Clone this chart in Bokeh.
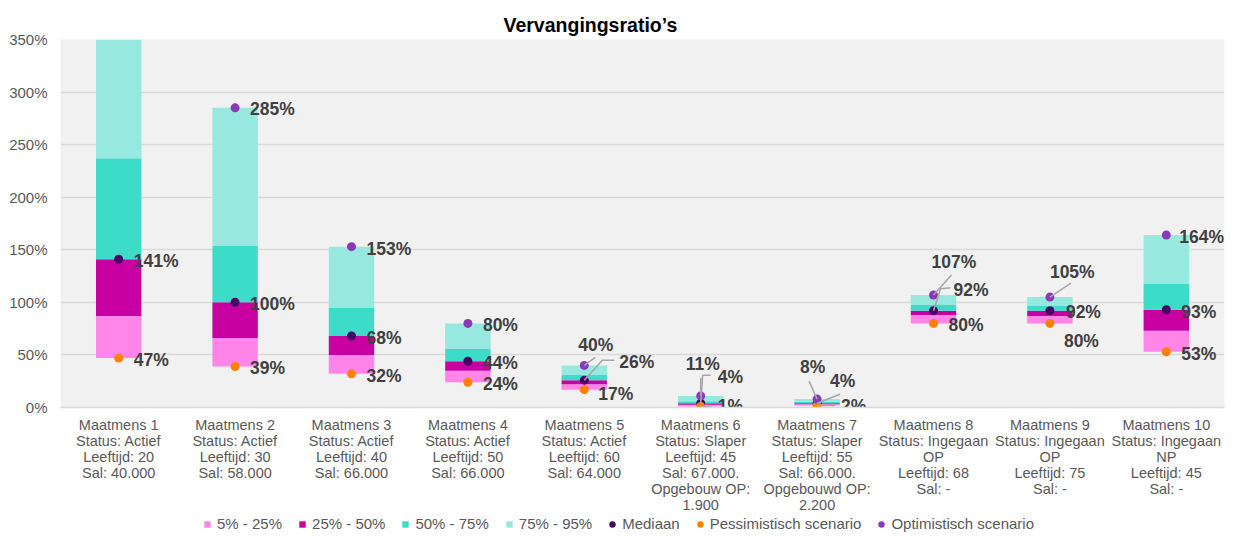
from bokeh.plotting import figure
from bokeh.models import (ColumnDataSource, Range1d, FixedTicker, PrintfTickFormatter,
                          Legend, LegendItem)
from bokeh.layouts import column
from bokeh.core.properties import value
from bokeh.embed import file_html
from bokeh.resources import INLINE

# ---------------- data ----------------
x_labels = [
    "Maatmens 1\nStatus: Actief\nLeeftijd: 20\nSal: 40.000",
    "Maatmens 2\nStatus: Actief\nLeeftijd: 30\nSal: 58.000",
    "Maatmens 3\nStatus: Actief\nLeeftijd: 40\nSal: 66.000",
    "Maatmens 4\nStatus: Actief\nLeeftijd: 50\nSal: 66.000",
    "Maatmens 5\nStatus: Actief\nLeeftijd: 60\nSal: 64.000",
    "Maatmens 6\nStatus: Slaper\nLeeftijd: 45\nSal: 67.000.\nOpgebouw OP:\n1.900",
    "Maatmens 7\nStatus: Slaper\nLeeftijd: 55\nSal: 66.000.\nOpgebouwd OP:\n2.200",
    "Maatmens 8\nStatus: Ingegaan\nOP\nLeeftijd: 68\nSal: -",
    "Maatmens 9\nStatus: Ingegaan\nOP\nLeeftijd: 75\nSal: -",
    "Maatmens 10\nStatus: Ingegaan\nNP\nLeeftijd: 45\nSal: -",
]
p5 = [47, 39, 32, 24, 17, 1, 2, 80, 80, 53]
p25 = [87, 66, 50, 35, 22, 2.5, 3, 88, 87, 73]
p50 = [141, 100, 68, 44, 26, 4, 4, 92, 92, 93]
p75 = [237, 154, 95, 56, 31, 6, 5.5, 98, 97, 118]
p95 = [370, 285, 153, 80, 40, 11, 8, 107, 105, 164]

mediaan = [141, 100, 68, 44, 26, 4, 4, 92, 92, 93]
pessimistisch = [47, 39, 32, 24, 17, 1, 2, 80, 80, 53]
optimistisch = [370, 285, 153, 80, 40, 11, 8, 107, 105, 164]

series_names = ["5% - 25%", "25% - 50%", "50% - 75%", "75% - 95%"]
scenario_names = ["Mediaan", "Pessimistisch scenario", "Optimistisch scenario"]
title_text = "Vervangingsratio\u2019s"

# ---------------- styles ----------------
FONT = "Liberation Sans"
bar_colors = ["#FF85E9", "#C800A1", "#3CDCC9", "#97E8DF"]
dot_colors = ["#4A0066", "#FF8000", "#8A3AB9"]
LBL = "#404040"
AX = "#595959"

# label offsets (screen px) per group: opt / median / pess
opt_off = [(15, 2), (15, 1), (15, 2), (15, 2), (-6, -20), (-15, -32), (-17, -32), (-2, -33), (0, -25), (13, 2)]
med_off = [(15, 2), (15, 2), (15, 2), (15, 2), (35, -18), (17, -26), (13, -22), (20, -21), (16, 1), (15, 2)]
pes_off = [(15, 2), (15, 2), (15, 2), (15, 2), (14, 4), (17, 0), (24, 1), (15, 2), (14, 18), (15, 2)]
# leader lines: (group, series, px path)
leaders = [
    (4, "opt", [(0, 0), (11, -8)]),
    (4, "med", [(0, 0), (18, -20), (30, -20)]),
    (5, "opt", [(0, 0), (0, -18)]),
    (5, "med", [(0, 0), (2, -28), (10, -28)]),
    (5, "pes", [(0, 0), (10, 0)]),
    (6, "opt", [(0, 0), (-8, -18)]),
    (6, "med", [(0, 0), (23, -9)]),
    (6, "pes", [(0, 0), (18, 0)]),
    (7, "opt", [(0, 0), (18, -20)]),
    (7, "med", [(0, 0), (7, -22), (17, -23)]),
    (8, "opt", [(0, 0), (21, -14)]),
]

n = len(x_labels)
xs = list(range(1, n + 1))

W, H, LH = 1227, 515, 17
ML, MR, MT, MB = 60, 3, 39, 108
p = figure(width=W, height=H, x_range=Range1d(0.5, n + 0.5), y_range=Range1d(0, 350),
           output_backend="svg", toolbar_location=None, title=title_text,
           min_border_left=ML, min_border_right=MR, min_border_top=MT, min_border_bottom=MB)
p.background_fill_color = "#F1F1F1"
p.border_fill_color = "white"
p.outline_line_color = None

p.title.text_font = FONT
p.title.text_font_size = "19.5px"
p.title.text_font_style = "bold"
p.title.text_color = "black"
p.title.align = "left"
p.title.offset = 443
p.title.standoff = 8

# pixel-to-data factors
fw = W - ML - MR
fh = H - MT - MB
px_x = n / fw
px_y = 350.0 / fh

# bars
levels = [p5, p25, p50, p75, p95]
for i in range(4):
    src = ColumnDataSource(dict(x=xs, bottom=levels[i], top=levels[i + 1]))
    p.vbar(x="x", bottom="bottom", top="top", width=0.39, source=src,
           fill_color=bar_colors[i], line_color=None)

# dots
for vals, col in zip([mediaan, pessimistisch, optimistisch], dot_colors):
    src = ColumnDataSource(dict(x=xs, y=vals))
    p.scatter(x="x", y="y", size=9, marker="circle", fill_color=col, line_color=None, source=src)

# leader lines
series_vals = {"opt": optimistisch, "med": mediaan, "pes": pessimistisch}
lx, ly = [], []
for g, s, path in leaders:
    x0 = xs[g]
    y0 = series_vals[s][g]
    lx.append([x0 + dx * px_x for dx, dy in path])
    ly.append([y0 - dy * px_y for dx, dy in path])
p.multi_line(xs=lx, ys=ly, line_color="#A6A6A6", line_width=1.5)

# data labels
tx, ty, tt, tdx, tdy = [], [], [], [], []
for vals, offs in [(optimistisch, opt_off), (mediaan, med_off), (pessimistisch, pes_off)]:
    for i in range(n):
        tx.append(xs[i]); ty.append(vals[i]); tt.append(f"{vals[i]:.0f}%")
        tdx.append(offs[i][0]); tdy.append(offs[i][1])
lsrc = ColumnDataSource(dict(x=tx, y=ty, text=tt, dx=tdx, dy=tdy))
p.text(x="x", y="y", text="text", x_offset="dx", y_offset="dy", source=lsrc,
       text_font=value(FONT), text_font_style="bold", text_font_size="17.5px",
       text_color=LBL, text_align="left", text_baseline="middle")

# axes
p.yaxis.ticker = FixedTicker(ticks=list(range(0, 351, 50)))
p.yaxis.formatter = PrintfTickFormatter(format="%d%%")
p.yaxis.axis_line_color = None
p.yaxis.major_tick_line_color = None
p.yaxis.minor_tick_line_color = None
p.yaxis.major_tick_out = 0
p.yaxis.major_tick_in = 0
p.yaxis.minor_tick_out = 0
p.yaxis.major_label_text_font = FONT
p.yaxis.major_label_text_font_size = "15px"
p.yaxis.major_label_text_color = AX
p.yaxis.major_label_standoff = 13

p.xaxis.ticker = FixedTicker(ticks=xs)
p.xaxis.major_label_overrides = {x: lab for x, lab in zip(xs, x_labels)}
p.xaxis.axis_line_color = "#D9D9D9"
p.xaxis.axis_line_width = 1.5
p.xaxis.major_tick_line_color = None
p.xaxis.minor_tick_line_color = None
p.xaxis.major_tick_out = 0
p.xaxis.major_tick_in = 0
p.xaxis.minor_tick_out = 0
p.xaxis.major_label_text_font = FONT
p.xaxis.major_label_text_font_size = "14.5px"
p.xaxis.major_label_text_color = AX
p.xaxis.major_label_text_line_height = 1.0
p.xaxis.major_label_standoff = 9

p.xgrid.grid_line_color = None
p.ygrid.grid_line_color = "#D9D9D9"
p.ygrid.grid_line_width = 1.5

# legend strip (separate small figure directly below the chart)
lf = figure(width=W, height=LH, x_range=Range1d(0, W), y_range=Range1d(0, LH),
            output_backend="svg", toolbar_location=None, title=None,
            x_axis_type=None, y_axis_type=None,
            min_border_left=0, min_border_right=0, min_border_top=0, min_border_bottom=0)
lf.xgrid.visible = False
lf.ygrid.visible = False
lf.outline_line_color = None
lf.background_fill_color = "white"
lf.border_fill_color = "white"

legend_names = series_names + scenario_names
legend_cols = bar_colors + dot_colors
legend_markers = ["square"] * 4 + ["circle"] * 3
items = []
for nm, col, mk in zip(legend_names, legend_cols, legend_markers):
    r = lf.scatter(x=[-100], y=[-100], marker=mk, size=8, fill_color=col, line_color=None)
    items.append(LegendItem(label=nm, renderers=[r]))
legend = Legend(items=items, orientation="horizontal", location=(139, 0),
                background_fill_alpha=0, border_line_color=None,
                label_text_font=FONT, label_text_font_size="15px", label_text_color=AX,
                glyph_width=16, glyph_height=16, label_standoff=2, spacing=12,
                padding=0, margin=0, label_height=15)
lf.add_layout(legend, "center")

open("out.html", "w").write(file_html(column(p, lf), INLINE))
